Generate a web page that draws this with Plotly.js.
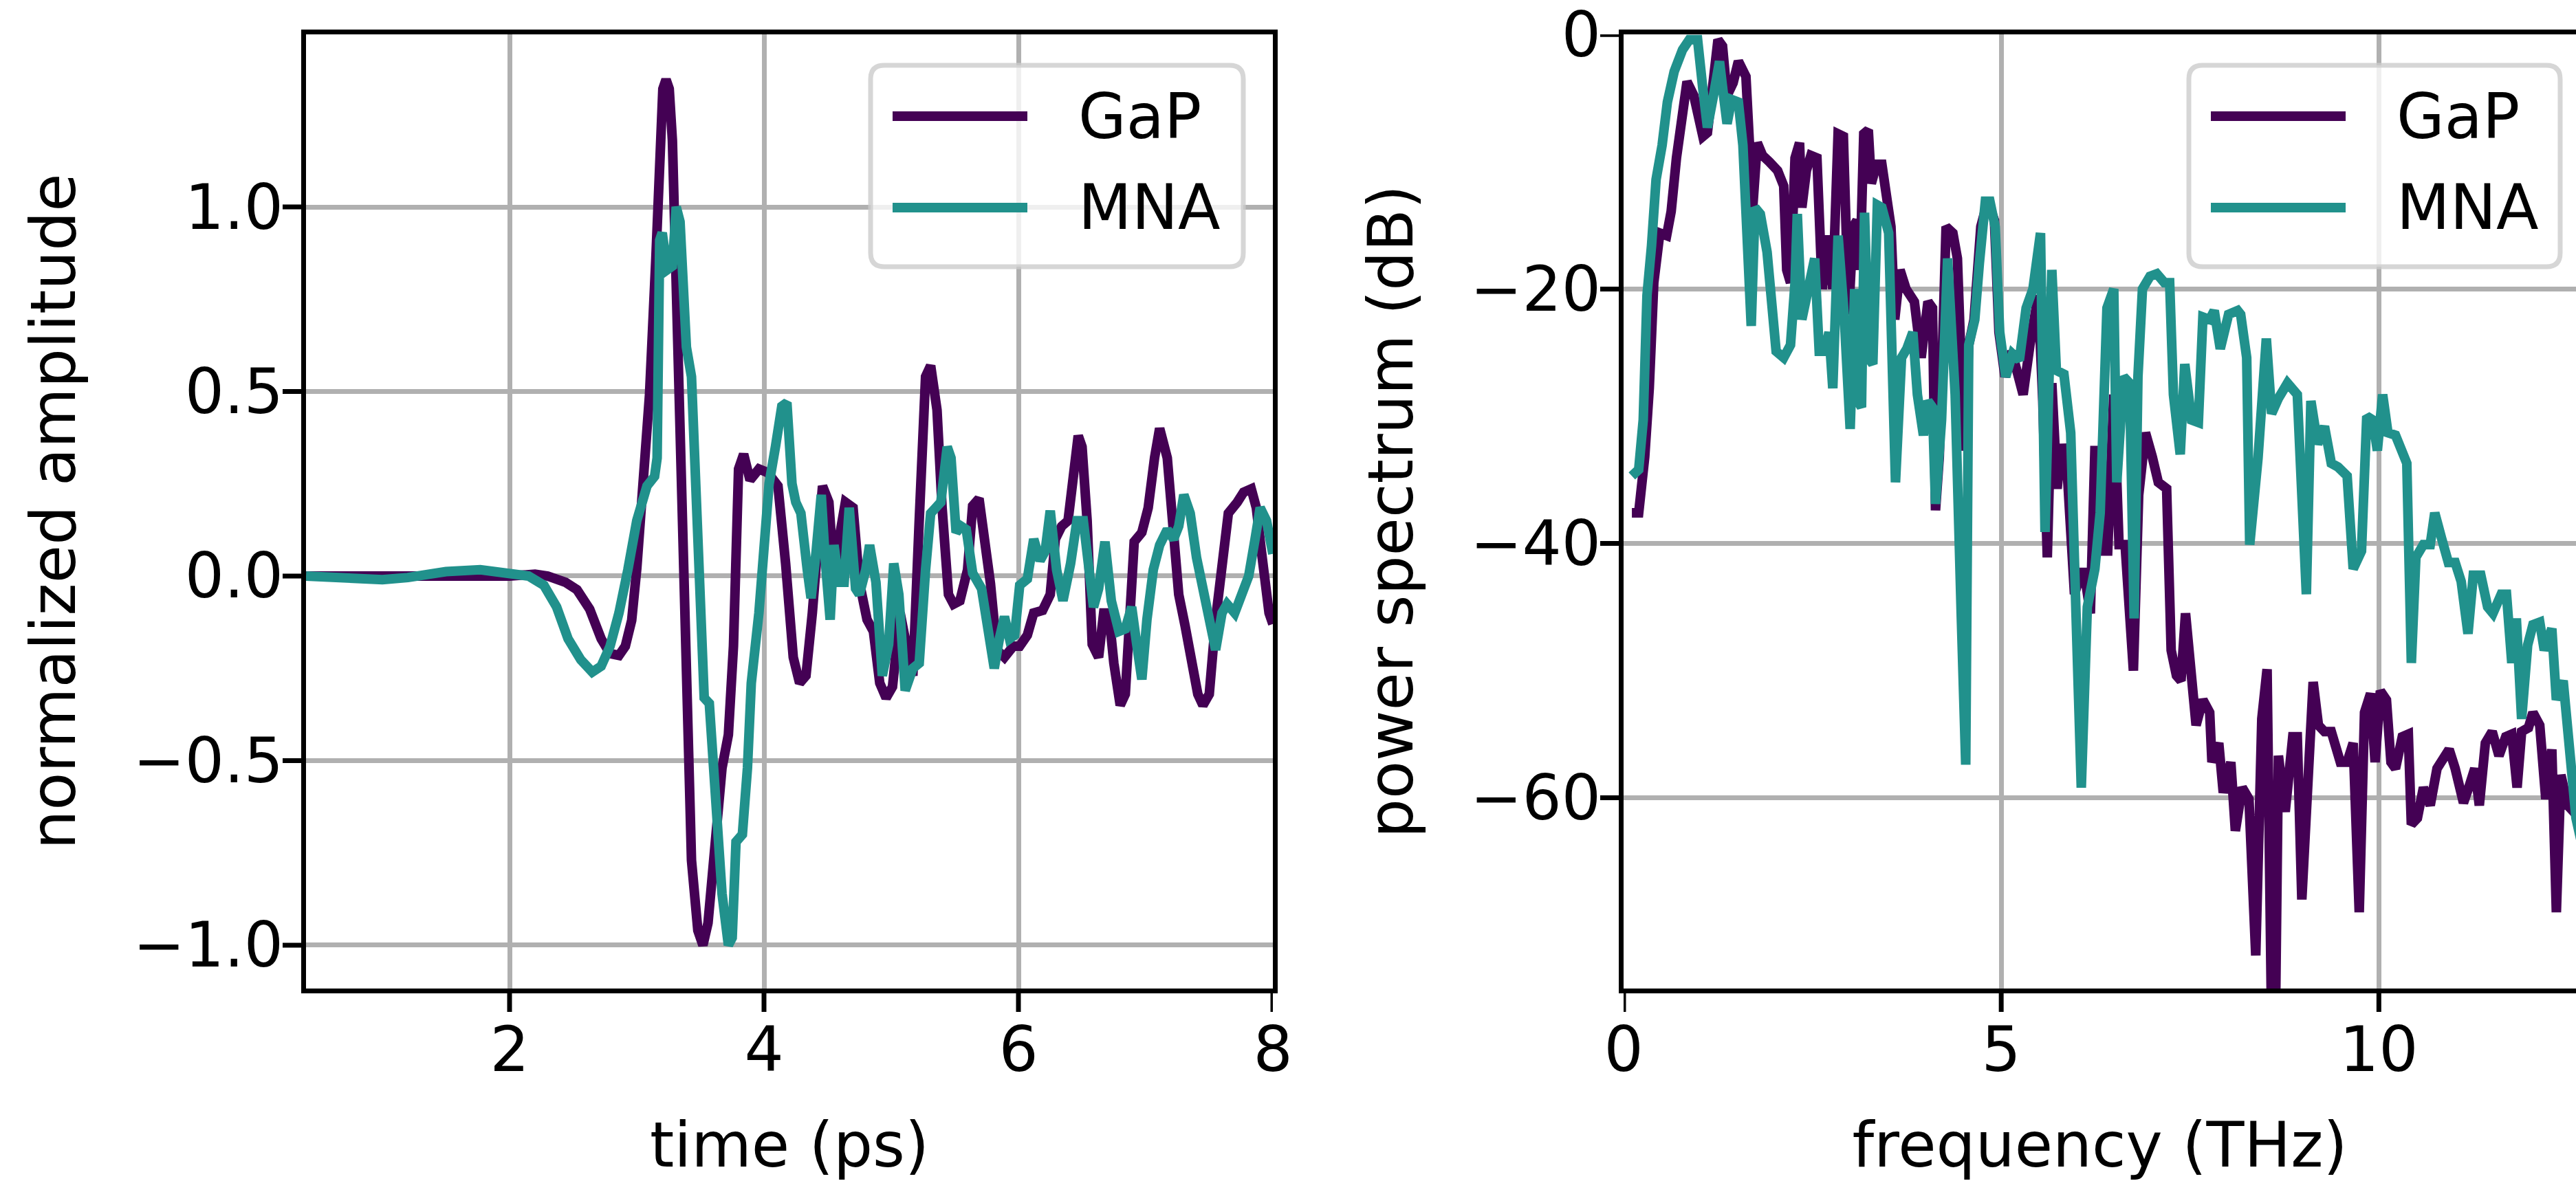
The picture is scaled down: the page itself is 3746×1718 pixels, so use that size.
<!DOCTYPE html>
<html>
<head>
<meta charset="utf-8">
<script src="https://cdn.plot.ly/plotly-3.0.1.min.js"></script>
<style>
html,body{margin:0;padding:0;background:#fff;}
#chart{width:3746px;height:1718px;}
</style>
</head>
<body>
<div id="chart"></div>
<script>
// ---------------- data ----------------
const seriesNames = ['GaP', 'MNA'];
const seriesColors = ['#440154', '#21918c'];

// time-domain traces (ps, normalized amplitude)
const timeGaP = [0.40,0.70,1.00,1.30,1.50,1.80,2.00,2.20,2.30,2.44,2.53,2.63,2.72,2.79,2.86,2.91,2.96,3.00,3.05,3.10,3.15,3.18,3.205,3.23,3.255,3.28,3.30,3.34,3.39,3.43,3.48,3.52,3.56,3.62,3.67,3.72,3.76,3.80,3.84,3.89,3.96,4.03,4.11,4.17,4.23,4.28,4.33,4.38,4.43,4.46,4.51,4.55,4.59,4.64,4.70,4.75,4.81,4.86,4.91,4.96,5.01,5.07,5.11,5.17,5.22,5.27,5.31,5.36,5.40,5.45,5.49,5.54,5.60,5.64,5.69,5.73,5.78,5.83,5.89,5.96,6.01,6.07,6.12,6.19,6.25,6.29,6.34,6.39,6.43,6.47,6.50,6.54,6.58,6.63,6.67,6.71,6.75,6.80,6.84,6.88,6.91,6.97,7.02,7.07,7.11,7.17,7.21,7.26,7.31,7.36,7.41,7.45,7.50,7.55,7.60,7.65,7.72,7.77,7.83,7.87,7.91,7.97,8.00];
const ampGaP  = [0.000,0.000,-0.003,0.000,-0.005,0.000,0.000,0.005,0.000,-0.017,-0.037,-0.09,-0.17,-0.21,-0.215,-0.19,-0.12,0.02,0.22,0.49,0.86,1.20,1.32,1.345,1.32,1.18,0.91,0.32,-0.40,-0.77,-0.96,-1.00,-0.94,-0.69,-0.52,-0.43,-0.19,0.29,0.33,0.26,0.29,0.28,0.244,0.034,-0.22,-0.29,-0.27,-0.10,0.17,0.244,0.20,0.00,0.10,0.20,0.185,-0.017,-0.118,-0.15,-0.29,-0.33,-0.30,-0.10,-0.17,-0.27,0.15,0.54,0.57,0.45,0.185,-0.05,-0.076,-0.067,0.017,0.19,0.21,0.118,-0.02,-0.20,-0.22,-0.19,-0.19,-0.16,-0.10,-0.093,-0.05,0.10,0.135,0.15,0.27,0.38,0.35,0.15,-0.185,-0.22,-0.10,-0.10,-0.236,-0.35,-0.32,-0.05,0.093,0.118,0.185,0.32,0.40,0.32,0.17,-0.05,-0.135,-0.22,-0.32,-0.35,-0.32,-0.118,0.034,0.17,0.20,0.227,0.236,0.185,0.067,-0.10,-0.13];

const timeMNA = [0.40,0.70,1.00,1.20,1.50,1.77,2.00,2.15,2.27,2.37,2.46,2.56,2.65,2.72,2.79,2.86,2.93,3.00,3.08,3.14,3.16,3.18,3.20,3.24,3.28,3.31,3.34,3.39,3.43,3.48,3.53,3.57,3.62,3.67,3.72,3.75,3.78,3.83,3.87,3.90,3.96,4.00,4.04,4.09,4.14,4.18,4.22,4.25,4.29,4.34,4.37,4.41,4.45,4.48,4.52,4.55,4.59,4.63,4.67,4.72,4.75,4.80,4.83,4.88,4.93,4.98,5.02,5.06,5.11,5.17,5.22,5.27,5.31,5.35,5.39,5.44,5.47,5.51,5.55,5.59,5.64,5.71,5.75,5.81,5.85,5.89,5.93,5.97,6.01,6.07,6.12,6.17,6.21,6.25,6.30,6.35,6.41,6.46,6.51,6.55,6.59,6.63,6.68,6.73,6.79,6.84,6.89,6.93,6.97,7.01,7.06,7.11,7.17,7.22,7.26,7.30,7.35,7.40,7.45,7.51,7.55,7.60,7.64,7.70,7.76,7.81,7.86,7.90,7.95,8.00];
const ampMNA  = [0.000,-0.003,-0.010,-0.004,0.012,0.017,0.008,0.000,-0.025,-0.084,-0.17,-0.227,-0.26,-0.244,-0.19,-0.10,0.017,0.15,0.244,0.27,0.32,0.91,0.93,0.83,0.84,1.00,0.96,0.62,0.54,0.15,-0.33,-0.345,-0.61,-0.86,-1.00,-0.98,-0.72,-0.70,-0.52,-0.29,-0.10,0.10,0.25,0.35,0.46,0.47,0.25,0.20,0.17,0.017,-0.06,0.067,0.22,0.05,-0.118,0.084,-0.017,-0.017,0.185,-0.034,-0.05,0.017,0.084,-0.017,-0.27,-0.185,0.034,-0.05,-0.31,-0.25,-0.236,0.017,0.17,0.185,0.20,0.35,0.32,0.118,0.135,0.126,0.008,-0.034,-0.135,-0.25,-0.17,-0.11,-0.17,-0.16,-0.025,-0.008,0.10,0.042,0.067,0.177,0.017,-0.067,0.034,0.15,0.15,0.017,-0.084,-0.034,0.093,-0.067,-0.15,-0.143,-0.084,-0.185,-0.28,-0.118,0.017,0.084,0.126,0.10,0.135,0.22,0.17,0.05,-0.034,-0.118,-0.20,-0.10,-0.076,-0.10,-0.034,0.00,0.10,0.185,0.15,0.06];

// power spectra (THz, dB)
const freqGaP = [0.11,0.20,0.28,0.34,0.40,0.48,0.57,0.63,0.70,0.78,0.84,0.93,1.01,1.05,1.11,1.19,1.25,1.31,1.37,1.45,1.52,1.62,1.66,1.71,1.77,1.84,1.93,2.04,2.12,2.16,2.21,2.27,2.33,2.36,2.42,2.48,2.56,2.63,2.72,2.77,2.84,2.91,2.98,3.04,3.09,3.13,3.18,3.24,3.28,3.35,3.42,3.54,3.59,3.66,3.74,3.85,3.94,4.03,4.09,4.13,4.18,4.27,4.36,4.42,4.51,4.57,4.64,4.73,4.82,4.91,4.97,5.05,5.14,5.21,5.29,5.38,5.49,5.55,5.61,5.67,5.74,5.80,5.88,5.97,6.07,6.13,6.18,6.24,6.32,6.37,6.41,6.49,6.56,6.64,6.69,6.75,6.82,6.91,7.00,7.08,7.19,7.25,7.32,7.38,7.44,7.52,7.58,7.67,7.76,7.79,7.88,7.94,8.04,8.10,8.19,8.28,8.37,8.45,8.52,8.58,8.63,8.67,8.76,8.86,8.92,8.98,9.05,9.13,9.20,9.28,9.37,9.46,9.49,9.58,9.66,9.74,9.81,9.89,9.95,10.02,10.10,10.16,10.22,10.31,10.39,10.43,10.51,10.59,10.68,10.77,10.86,10.93,11.01,11.12,11.19,11.27,11.33,11.41,11.50,11.59,11.68,11.76,11.83,11.89,11.98,12.04,12.13,12.21,12.29,12.35,12.41,12.50,12.61,12.70];
const dbGaP   = [-37.6,-37.6,-33.2,-27.8,-19.5,-15.6,-15.8,-13.9,-9.7,-5.8,-3.7,-4.8,-7.7,-8.0,-7.7,-3.8,-0.4,-0.9,-4.8,-3.8,-2.1,-3.3,-8.2,-13.6,-8.5,-9.5,-10.0,-10.7,-11.9,-18.5,-19.5,-9.7,-8.5,-13.6,-10.7,-9.5,-9.7,-20.0,-15.8,-20.0,-7.8,-8.0,-22.0,-15.1,-14.6,-18.5,-7.8,-7.5,-11.7,-10.2,-10.2,-15.1,-22.4,-18.5,-20.0,-21.0,-25.4,-21.0,-21.5,-37.4,-33.2,-15.1,-15.6,-17.6,-32.7,-24.4,-22.4,-15.1,-13.1,-14.6,-23.4,-26.9,-24.9,-26.9,-28.3,-24.4,-20.5,-28.8,-41.1,-27.4,-35.7,-32.2,-35.0,-44.0,-42.0,-43.5,-45.5,-32.7,-32.7,-40.6,-40.6,-28.3,-40.1,-40.1,-46.0,-50.0,-36.2,-31.3,-33.2,-35.2,-35.7,-48.4,-50.4,-50.8,-45.5,-51.8,-54.3,-52.3,-53.3,-57.2,-55.7,-59.6,-57.2,-62.6,-59.2,-60.1,-72.4,-53.8,-49.9,-78.0,-78.0,-56.7,-61.1,-55.2,-55.2,-68.0,-58.7,-50.9,-54.3,-54.8,-54.8,-57.2,-57.2,-57.2,-55.7,-69.0,-53.3,-51.8,-57.2,-51.6,-52.3,-57.2,-57.7,-55.2,-55.0,-62.1,-61.6,-59.2,-60.6,-57.7,-57.0,-56.2,-57.7,-60.4,-59.2,-57.7,-60.6,-55.7,-54.8,-56.7,-55.2,-55.0,-59.2,-54.8,-54.5,-53.3,-54.3,-60.1,-56.2,-69.0,-58.2,-60.6,-61.3,-60.5];

const freqMNA = [0.11,0.20,0.26,0.31,0.37,0.43,0.51,0.58,0.67,0.78,0.87,0.98,1.05,1.11,1.19,1.27,1.33,1.37,1.43,1.52,1.58,1.65,1.69,1.74,1.81,1.90,1.96,2.02,2.12,2.21,2.27,2.30,2.36,2.42,2.48,2.53,2.59,2.66,2.72,2.77,2.84,2.92,3.00,3.06,3.10,3.15,3.19,3.25,3.30,3.36,3.42,3.51,3.60,3.68,3.75,3.83,3.89,3.97,4.03,4.09,4.13,4.21,4.29,4.33,4.39,4.47,4.53,4.57,4.65,4.71,4.79,4.85,4.92,4.98,5.06,5.15,5.24,5.33,5.42,5.52,5.58,5.67,5.73,5.83,5.92,5.99,6.06,6.14,6.24,6.31,6.40,6.49,6.53,6.62,6.70,6.76,6.81,6.87,6.97,7.06,7.16,7.23,7.28,7.37,7.43,7.52,7.61,7.67,7.76,7.82,7.90,8.01,8.13,8.17,8.25,8.29,8.40,8.51,8.58,8.67,8.79,8.92,9.04,9.10,9.19,9.28,9.37,9.46,9.58,9.66,9.77,9.84,9.92,9.98,10.05,10.12,10.22,10.37,10.43,10.49,10.59,10.68,10.74,10.83,10.92,11.01,11.09,11.18,11.25,11.35,11.44,11.51,11.62,11.69,11.76,11.82,11.89,11.97,12.04,12.13,12.19,12.29,12.35,12.44,12.53,12.61,12.70];
const dbMNA   = [-34.7,-34.2,-30.3,-20.5,-16.6,-11.4,-8.7,-5.3,-2.9,-1.2,-0.4,-0.4,-4.3,-7.3,-4.8,-2.1,-5.1,-7.0,-5.1,-5.3,-8.7,-17.6,-22.9,-13.6,-14.1,-17.1,-21.0,-24.9,-25.4,-24.4,-19.5,-14.1,-22.4,-20.5,-18.5,-17.6,-24.9,-24.9,-23.4,-27.8,-15.8,-22.0,-31.0,-20.0,-28.8,-29.3,-14.0,-25.5,-25.9,-13.4,-13.6,-15.6,-35.2,-25.4,-24.7,-23.4,-28.3,-31.5,-28.8,-29.3,-36.9,-30.3,-17.6,-21.0,-28.3,-45.5,-57.4,-24.4,-22.4,-18.0,-13.1,-13.1,-15.1,-23.4,-26.9,-25.1,-25.6,-21.5,-20.0,-15.6,-39.1,-18.5,-26.4,-26.7,-31.3,-45.5,-59.2,-45.0,-42.0,-37.6,-21.5,-20.0,-35.2,-26.9,-27.4,-45.9,-26.9,-20.0,-19.0,-18.8,-19.5,-19.5,-28.3,-33.0,-25.9,-30.3,-30.5,-22.2,-22.4,-21.7,-24.7,-22.0,-21.7,-22.0,-25.4,-40.1,-33.3,-23.9,-29.8,-28.6,-27.4,-28.3,-44.0,-28.8,-32.2,-30.8,-33.7,-34.0,-34.7,-42.0,-40.6,-30.0,-30.3,-32.7,-28.3,-31.3,-31.5,-33.7,-49.4,-41.1,-40.1,-40.1,-37.6,-39.6,-41.5,-41.5,-43.0,-47.1,-42.5,-42.5,-45.0,-45.5,-44.0,-44.0,-49.4,-45.9,-53.8,-48.0,-46.4,-46.2,-48.4,-46.7,-52.3,-50.8,-55.7,-61.6,-64.0];

// tick values
const timeTicks = [2, 4, 6, 8];
const ampTicks  = [-1.0, -0.5, 0.0, 0.5, 1.0];
const freqTicks = [0, 5, 10];
const dbTicks   = [0, -20, -40, -60];

// axis ranges
const timeRange = [0.4, 8];
const ampRange  = [-1.1175, 1.4675];
const freqRange = [0, 12.61];
const dbRange   = [-75, 0.02];

// ---------------- layout helpers (pixel geometry of the figure) ----------------
const W = 3746, H = 1718;
const M = {l: 445, r: 0, t: 50, b: 280, autoexpand: false};
const PW = W - M.l - M.r, PH = H - M.t - M.b;
const px = X => (X - M.l) / PW;
const py = Y => (H - M.b - Y) / PH;

const FONT = 'DejaVu Sans';
const FS = 90;
const LW = 14;
const TICKLEN = 34, TICKW = 7;

function roundRect(x0, y0, x1, y1, r) {
  const P = (X, Y) => px(X).toFixed(6) + ',' + py(Y).toFixed(6);
  return 'M' + P(x0 + r, y0) + ' L' + P(x1 - r, y0) + ' Q' + P(x1, y0) + ' ' + P(x1, y0 + r) +
         ' L' + P(x1, y1 - r) + ' Q' + P(x1, y1) + ' ' + P(x1 - r, y1) +
         ' L' + P(x0 + r, y1) + ' Q' + P(x0, y1) + ' ' + P(x0, y1 - r) +
         ' L' + P(x0, y0 + r) + ' Q' + P(x0, y0) + ' ' + P(x0 + r, y0) + ' Z';
}

const leftDomain = [0, px(1851)];
const rightDomain = [px(2361), 1];

const shapes = [], annotations = [];

// visible tick marks (placed on the axes' own scales)
function addXTicks(xref, vals) {
  vals.forEach(v => shapes.push({type: 'line', xref: xref, yref: 'paper', ysizemode: 'pixel', yanchor: 0,
    x0: v, x1: v, y0: 0, y1: -TICKLEN, layer: 'above', line: {color: '#000', width: TICKW}}));
}
function addYTicks(yref, vals, xAnchor) {
  vals.forEach(v => shapes.push({type: 'line', yref: yref, xref: 'paper', xsizemode: 'pixel', xanchor: xAnchor,
    y0: v, y1: v, x0: 0, x1: -TICKLEN, layer: 'above', line: {color: '#000', width: TICKW}}));
}
addXTicks('x', timeTicks);
addYTicks('y', ampTicks, leftDomain[0]);
addXTicks('x2', freqTicks);
addYTicks('y2', dbTicks, rightDomain[0]);

function addLegend(boxX0, boxX1) {
  shapes.push({type: 'path', xref: 'paper', yref: 'paper', layer: 'above',
    path: roundRect(boxX0, 95, boxX1, 388, 20),
    fillcolor: 'rgba(255,255,255,0.8)', line: {color: 'rgba(204,204,204,0.8)', width: 7}});
  const rows = [169, 302];
  seriesNames.forEach((name, i) => {
    shapes.push({type: 'line', xref: 'paper', yref: 'paper', layer: 'above',
      x0: px(boxX0 + 32), x1: px(boxX0 + 228), y0: py(rows[i]), y1: py(rows[i]),
      line: {color: seriesColors[i], width: LW}});
    annotations.push({xref: 'paper', yref: 'paper', x: px(boxX0 + 300), y: py(rows[i]),
      xanchor: 'left', yanchor: 'middle', showarrow: false, text: name,
      font: {family: FONT, size: FS, color: '#000'}});
  });
}
addLegend(1266, 1808);
addLegend(3183, 3723);

const traces = [
  {x: timeGaP, y: ampGaP, xaxis: 'x', yaxis: 'y', name: seriesNames[0], type: 'scatter', mode: 'lines',
   line: {color: seriesColors[0], width: LW}},
  {x: timeMNA, y: ampMNA, xaxis: 'x', yaxis: 'y', name: seriesNames[1], type: 'scatter', mode: 'lines',
   line: {color: seriesColors[1], width: LW}},
  {x: freqGaP, y: dbGaP, xaxis: 'x2', yaxis: 'y2', name: seriesNames[0], type: 'scatter', mode: 'lines',
   line: {color: seriesColors[0], width: LW}},
  {x: freqMNA, y: dbMNA, xaxis: 'x2', yaxis: 'y2', name: seriesNames[1], type: 'scatter', mode: 'lines',
   line: {color: seriesColors[1], width: LW}}
];

const tickFont = {family: FONT, size: FS, color: '#000'};
const titleFont = {family: FONT, size: FS, color: '#000'};

// axes carry spines, grid, labels and titles; their own ticks are invisible
// and short so that the labels sit where the reference has them
const labelAxis = {
  showline: true, linecolor: '#000', linewidth: 7,
  ticks: 'outside', tickwidth: 1, tickcolor: 'rgba(0,0,0,0)',
  showgrid: true, gridcolor: '#b0b0b0', gridwidth: 7,
  zeroline: false, automargin: true, fixedrange: true,
  ticklabeloverflow: 'allow',
  tickfont: tickFont
};

const layout = {
  width: W, height: H,
  margin: M,
  paper_bgcolor: '#fff', plot_bgcolor: '#fff',
  showlegend: false,
  font: {family: FONT, size: FS, color: '#000'},
  xaxis: Object.assign({}, labelAxis, {
    domain: leftDomain, range: timeRange, tickvals: timeTicks, anchor: 'y', mirror: true, ticklen: 5,
    title: {text: 'time (ps)', font: titleFont, standoff: 87}
  }),
  yaxis: Object.assign({}, labelAxis, {
    domain: [0, 1], range: ampRange, tickvals: ampTicks, tickformat: '.1f', anchor: 'x', mirror: true, ticklen: 8,
    title: {text: 'normalized amplitude', font: titleFont, standoff: 56}
  }),
  xaxis2: Object.assign({}, labelAxis, {
    domain: rightDomain, range: freqRange, tickvals: freqTicks, anchor: 'y2', mirror: true, ticklen: 5,
    title: {text: 'frequency (THz)', font: titleFont, standoff: 87}
  }),
  yaxis2: Object.assign({}, labelAxis, {
    domain: [0, 1], range: dbRange, tickvals: dbTicks, anchor: 'x2', mirror: false, ticklen: 8,
    title: {text: 'power spectrum (dB)', font: titleFont, standoff: 56}
  }),
  shapes: shapes,
  annotations: annotations
};

Plotly.newPlot('chart', traces, layout, {displayModeBar: false, staticPlot: true});
</script>
</body>
</html>
